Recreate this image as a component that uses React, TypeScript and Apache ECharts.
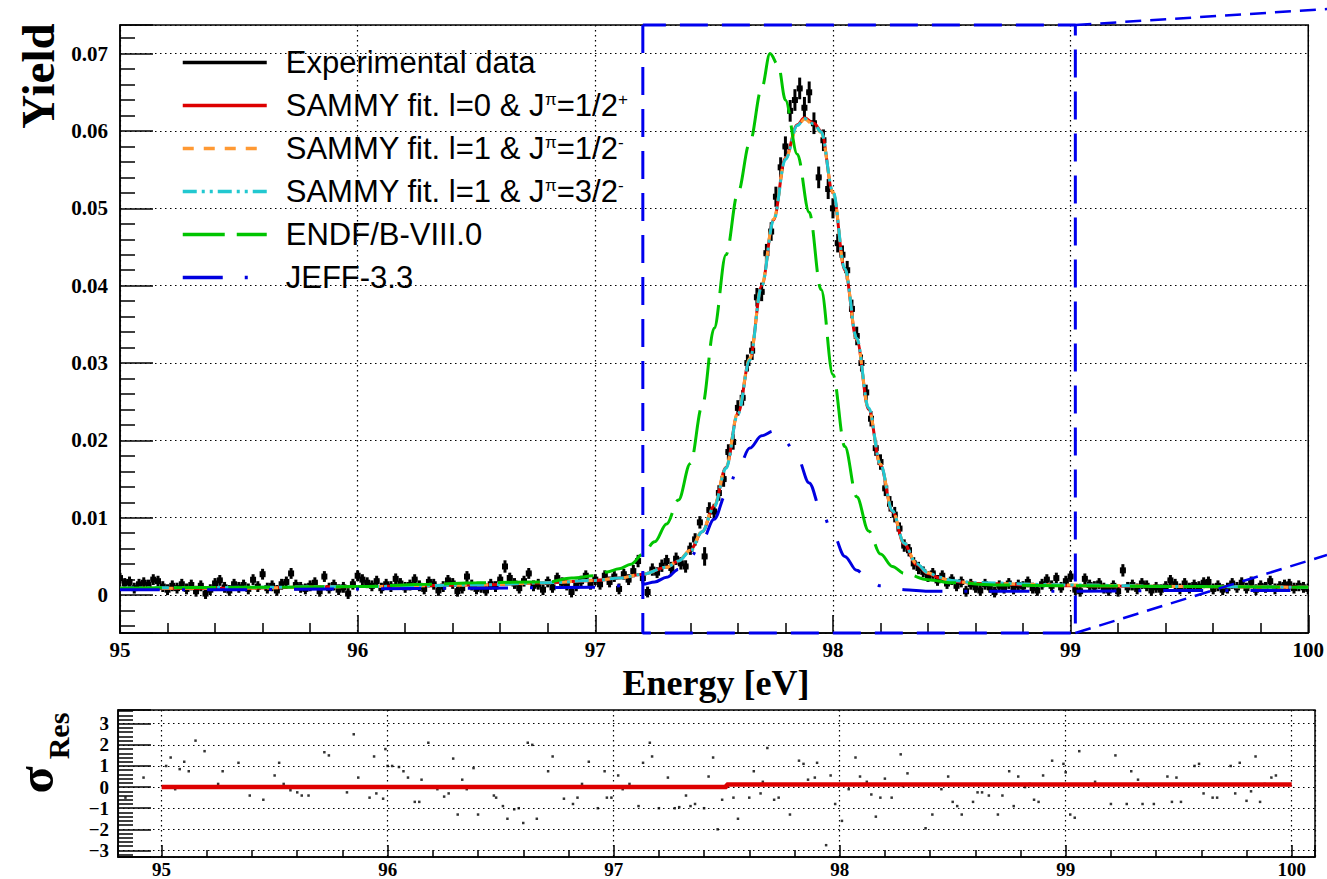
import React, { useEffect, useRef } from 'react';
import * as echarts from 'echarts';

// ---------------- data ----------------
const energyStart = 95.0;
const energyStep = 0.02;

const measuredYield = [
  0.0022, 0.0015, 0.0017, 0.0009, 0.0014, 0.0016, 0.0013, 0.0020, 0.0018, 0.0011,
  0.0007, 0.0012, 0.0009, 0.0014, 0.0008, 0.0013, 0.0005, 0.0012, 0.0002, 0.0007,
  0.0015, 0.0019, 0.0010, 0.0006, 0.0014, 0.0010, 0.0013, 0.0008, 0.0020, 0.0011,
  0.0027, 0.0009, 0.0012, 0.0006, 0.0014, 0.0017, 0.0028, 0.0013, 0.0010, 0.0008,
  0.0012, 0.0016, 0.0005, 0.0024, 0.0009, 0.0013, 0.0007, 0.0010, 0.0002, 0.0014,
  0.0025, 0.0020, 0.0016, 0.0012, 0.0018, 0.0009, 0.0014, 0.0011, 0.0021, 0.0015,
  0.0010, 0.0013, 0.0020, 0.0012, 0.0008, 0.0017, 0.0014, 0.0006, 0.0011, 0.0019,
  0.0015, 0.0005, 0.0009, 0.0024, 0.0013, 0.0008, 0.0010, 0.0006, 0.0014, 0.0011,
  0.0020, 0.0037, 0.0022, 0.0015, 0.0009, 0.0018, 0.0028, 0.0012, 0.0014, 0.0007,
  0.0017, 0.0010, 0.0022, 0.0016, 0.0013, 0.0004, 0.0012, 0.0018, 0.0025, 0.0014,
  0.0020,
  0.0014, 0.0025, 0.0017, 0.0024, 0.0008, 0.0027, 0.0020, 0.0031, 0.0044, 0.0022,
  0.0004, 0.0033, 0.0029, 0.0038, 0.0044, 0.0035, 0.0047, 0.0041, 0.0037, 0.0060,
  0.0072, 0.0094, 0.0050, 0.0110, 0.0108, 0.0132, 0.0150, 0.0185, 0.0198, 0.0242,
  0.0255, 0.0300, 0.0316, 0.0385, 0.0392, 0.0442, 0.0470, 0.0515, 0.0553, 0.0580,
  0.0626, 0.0640, 0.0655, 0.0630, 0.0650, 0.0610, 0.0540, 0.0588, 0.0525, 0.0500,
  0.0455, 0.0440, 0.0420, 0.0370, 0.0335, 0.0300, 0.0262, 0.0228, 0.0190, 0.0172,
  0.0138, 0.0118, 0.0104, 0.0086, 0.0064, 0.0058, 0.0041, 0.0035, 0.0030, 0.0024,
  0.0028, 0.0019, 0.0025, 0.0015, 0.0020, 0.0012, 0.0017, 0.0005, 0.0014, 0.0010,
  0.0006, 0.0014, 0.0010, 0.0004, 0.0012, 0.0009, 0.0015, 0.0008, 0.0013, 0.0011,
  0.0017, 0.0009, 0.0006, 0.0014, 0.0020, 0.0012, 0.0022, 0.0010, 0.0018, 0.0024,
  0.0007, 0.0005, 0.0021, 0.0013, 0.0011, 0.0015, 0.0009, 0.0006, 0.0012, 0.0005,
  0.0032, 0.0010, 0.0013, 0.0008, 0.0015, 0.0012, 0.0006, 0.0010, 0.0007, 0.0011,
  0.0019, 0.0014, 0.0008, 0.0015, 0.0009, 0.0013, 0.0011, 0.0016, 0.0017, 0.0008,
  0.0012, 0.0007, 0.0009, 0.0015, 0.0010, 0.0016, 0.0009, 0.0017, 0.0007, 0.0012,
  0.0010, 0.0018, 0.0008, 0.0011, 0.0013, 0.0014, 0.0009, 0.0012, 0.0010, 0.0008,
];

const measuredError = [
  0.0007, 0.0007, 0.0007, 0.0007, 0.0007, 0.0007, 0.0007, 0.0007, 0.0007, 0.0007,
  0.0007, 0.0007, 0.0007, 0.0007, 0.0007, 0.0007, 0.0007, 0.0007, 0.0007, 0.0007,
  0.0007, 0.0007, 0.0007, 0.0007, 0.0007, 0.0007, 0.0007, 0.0007, 0.0007, 0.0007,
  0.0007, 0.0007, 0.0007, 0.0007, 0.0007, 0.0007, 0.0007, 0.0007, 0.0007, 0.0007,
  0.0007, 0.0007, 0.0007, 0.0007, 0.0007, 0.0007, 0.0007, 0.0007, 0.0007, 0.0007,
  0.0007, 0.0007, 0.0007, 0.0007, 0.0007, 0.0007, 0.0007, 0.0007, 0.0007, 0.0007,
  0.0007, 0.0007, 0.0007, 0.0007, 0.0007, 0.0007, 0.0007, 0.0007, 0.0007, 0.0007,
  0.0007, 0.0007, 0.0007, 0.0007, 0.0007, 0.0007, 0.0007, 0.0007, 0.0007, 0.0007,
  0.0007, 0.0008, 0.0007, 0.0007, 0.0007, 0.0007, 0.0007, 0.0007, 0.0007, 0.0007,
  0.0007, 0.0007, 0.0007, 0.0007, 0.0007, 0.0007, 0.0007, 0.0007, 0.0007, 0.0007,
  0.0007,
  0.0007, 0.0007, 0.0007, 0.0007, 0.0007, 0.0007, 0.0007, 0.0008, 0.0008, 0.0007,
  0.0007, 0.0008, 0.0007, 0.0008, 0.0008, 0.0008, 0.0008, 0.0008, 0.0008, 0.0008,
  0.0008, 0.0008, 0.0012, 0.0010, 0.0010, 0.0010, 0.0010, 0.0010, 0.0010, 0.0010,
  0.0010, 0.0011, 0.0012, 0.0012, 0.0012, 0.0012, 0.0012, 0.0013, 0.0013, 0.0013,
  0.0014, 0.0014, 0.0014, 0.0014, 0.0014, 0.0014, 0.0014, 0.0014, 0.0013, 0.0013,
  0.0012, 0.0012, 0.0012, 0.0012, 0.0012, 0.0011, 0.0010, 0.0010, 0.0010, 0.0010,
  0.0010, 0.0010, 0.0010, 0.0008, 0.0008, 0.0008, 0.0008, 0.0008, 0.0007, 0.0007,
  0.0007, 0.0007, 0.0007, 0.0007, 0.0007, 0.0007, 0.0007, 0.0007, 0.0007, 0.0007,
  0.0007, 0.0007, 0.0007, 0.0007, 0.0007, 0.0007, 0.0007, 0.0007, 0.0007, 0.0007,
  0.0007, 0.0007, 0.0007, 0.0007, 0.0007, 0.0007, 0.0007, 0.0007, 0.0007, 0.0007,
  0.0007, 0.0007, 0.0007, 0.0007, 0.0007, 0.0007, 0.0007, 0.0007, 0.0007, 0.0007,
  0.0008, 0.0007, 0.0007, 0.0007, 0.0007, 0.0007, 0.0007, 0.0007, 0.0007, 0.0007,
  0.0007, 0.0007, 0.0007, 0.0007, 0.0007, 0.0007, 0.0007, 0.0007, 0.0007, 0.0007,
  0.0007, 0.0007, 0.0007, 0.0007, 0.0007, 0.0007, 0.0007, 0.0007, 0.0007, 0.0007,
  0.0007, 0.0007, 0.0007, 0.0007, 0.0007, 0.0007, 0.0007, 0.0007, 0.0007, 0.0007,
];

const fitEnergy = [
  95.0, 95.5, 96.0, 96.5, 96.8, 97.0, 97.1, 97.2, 97.3, 97.35, 97.4, 97.45, 97.5, 97.55,
  97.6, 97.65, 97.7, 97.75, 97.8, 97.85, 97.88, 97.92, 97.95, 98.0, 98.05, 98.1, 98.15,
  98.2, 98.25, 98.3, 98.35, 98.4, 98.45, 98.5, 98.6, 99.0, 99.5, 100.0,
];
const sammyL0Yield = [
  0.0008, 0.0009, 0.0011, 0.0013, 0.0016, 0.0019, 0.0022, 0.0027, 0.0036, 0.0044, 0.0058, 0.0082, 0.0115, 0.0165,
  0.0235, 0.0305, 0.0400, 0.0485, 0.0565, 0.0608, 0.0617, 0.0610, 0.0600, 0.0520, 0.0420, 0.0330, 0.0240,
  0.0168, 0.0108, 0.0066, 0.0040, 0.0028, 0.0022, 0.0018, 0.0015, 0.0012, 0.0011, 0.0010,
];
const sammyL1HalfYield = [
  0.0009, 0.0009, 0.0011, 0.0013, 0.0016, 0.0019, 0.0022, 0.0027, 0.0036, 0.0045, 0.0058, 0.0083, 0.0116, 0.0166,
  0.0236, 0.0306, 0.0401, 0.0486, 0.0564, 0.0606, 0.0615, 0.0608, 0.0598, 0.0521, 0.0421, 0.0331, 0.0241,
  0.0169, 0.0109, 0.0067, 0.0041, 0.0029, 0.0022, 0.0018, 0.0015, 0.0013, 0.0011, 0.0010,
];
const sammyL1ThreeHalfYield = [
  0.0009, 0.0010, 0.0011, 0.0013, 0.0016, 0.0019, 0.0022, 0.0027, 0.0036, 0.0044, 0.0057, 0.0082, 0.0114, 0.0164,
  0.0234, 0.0304, 0.0399, 0.0484, 0.0563, 0.0607, 0.0616, 0.0609, 0.0599, 0.0522, 0.0422, 0.0332, 0.0242,
  0.0169, 0.0109, 0.0067, 0.0041, 0.0029, 0.0023, 0.0019, 0.0016, 0.0013, 0.0011, 0.0010,
];

const endfEnergy = [
  95.0, 95.5, 96.0, 96.3, 96.5, 96.8, 96.9, 97.0, 97.05, 97.1, 97.15, 97.2, 97.25, 97.3, 97.35,
  97.4, 97.45, 97.5, 97.55, 97.6, 97.65, 97.7, 97.735, 97.77, 97.8, 97.85, 97.9, 97.95, 98.0,
  98.05, 98.1, 98.15, 98.2, 98.25, 98.3, 98.4, 98.5, 98.7, 99.0, 99.5, 100.0,
];
const endfYield = [
  0.0009, 0.0010, 0.0011, 0.0014, 0.0016, 0.0017, 0.0022, 0.0025, 0.0030, 0.0034, 0.0040, 0.0053, 0.0069, 0.0092, 0.0123,
  0.0170, 0.0245, 0.0345, 0.0440, 0.0520, 0.0585, 0.0655, 0.0700, 0.0685, 0.0640, 0.0570, 0.0495, 0.0395, 0.0285,
  0.0192, 0.0127, 0.0083, 0.0053, 0.0037, 0.0028, 0.0020, 0.0016, 0.0013, 0.0012, 0.0011, 0.0010,
];

const jeffEnergy = [
  95.0, 95.5, 96.0, 96.5, 97.0, 97.2, 97.25, 97.3, 97.35, 97.4, 97.45, 97.5, 97.55, 97.6, 97.65,
  97.7, 97.75, 97.8, 97.85, 97.9, 97.95, 98.0, 98.05, 98.1, 98.15, 98.2, 98.25, 98.3, 98.4,
  98.7, 99.0, 99.5, 100.0,
];
const jeffYield = [
  0.0007, 0.0007, 0.0008, 0.0009, 0.0010, 0.0014, 0.0017, 0.0023, 0.0033, 0.0049, 0.0071, 0.0098, 0.0130, 0.0163, 0.0190,
  0.0206, 0.0212, 0.0198, 0.0178, 0.0145, 0.0110, 0.0079, 0.0050, 0.0032, 0.0020, 0.0012, 0.0009, 0.0007, 0.0005,
  0.0005, 0.0005, 0.0006, 0.0006,
];

const residualEnergy = [
  94.84, 94.92, 95.02, 95.04, 95.06, 95.08, 95.10, 95.12, 95.15, 95.19, 95.25, 95.27, 95.34, 95.39, 95.45,
  95.50, 95.52, 95.54, 95.57, 95.60, 95.62, 95.65, 95.72, 95.74, 95.82, 95.85, 95.87, 95.92, 95.94, 95.95,
  95.98, 95.99, 96.00, 96.02, 96.05, 96.07, 96.09, 96.12, 96.14, 96.15, 96.18, 96.22, 96.25, 96.27, 96.29,
  96.31, 96.33, 96.35, 96.38, 96.40, 96.47, 96.48, 96.51, 96.53, 96.56, 96.58, 96.60, 96.62, 96.64, 96.66,
  96.71, 96.73, 96.78, 96.82, 96.84, 96.86, 96.89, 96.93, 96.96, 96.97, 96.99, 97.02, 97.04, 97.07, 97.11,
  97.13, 97.16, 97.17, 97.20, 97.24, 97.27, 97.29, 97.32, 97.34, 97.36, 97.40, 97.42, 97.44, 97.46, 97.48,
  97.53, 97.55, 97.60, 97.62, 97.65, 97.66, 97.68, 97.71, 97.73, 97.78, 97.82, 97.84, 97.86, 97.89, 97.90,
  97.94, 97.96, 97.98, 98.01, 98.04, 98.07, 98.09, 98.12, 98.14, 98.16, 98.18, 98.20, 98.23, 98.27, 98.30,
  98.34, 98.38, 98.41, 98.45, 98.48, 98.50, 98.52, 98.54, 98.59, 98.61, 98.63, 98.66, 98.70, 98.72, 98.75,
  98.77, 98.79, 98.82, 98.86, 98.88, 98.90, 98.94, 98.99, 99.00, 99.02, 99.04, 99.06, 99.13, 99.20, 99.22,
  99.27, 99.29, 99.32, 99.34, 99.39, 99.45, 99.47, 99.49, 99.51, 99.57, 99.59, 99.61, 99.65, 99.67, 99.73,
  99.75, 99.77, 99.80, 99.82, 99.84, 99.86, 99.91, 99.93, 98.02, 98.28, 98.56, 98.84, 99.10, 99.36, 99.62,
  99.88, 99.98,
];
const residualSigma = [
  -0.5, 0.45, 1.0, 1.4, -0.1, 0.85, 1.2, 0.75, 2.2, 1.7, 0.15, 0.75, 1.15, -0.4, -0.6,
  0.55, 1.15, 0.15, -0.15, -0.25, -0.4, -0.4, 1.65, 1.5, -0.25, 2.5, 0.45, -0.5, 1.45, -0.3,
  -0.55, 1.8, 1.0, 1.0, 0.95, 0.75, 0.45, -0.7, -0.7, 0.35, 2.1, -0.1, -0.45, -0.3, 1.35,
  -1.3, 0.35, -0.1, 0.9, -1.3, -0.4, -0.5, -0.9, -1.5, -1.05, -1.0, -1.7, 2.1, 2.0, -1.5,
  0.75, 1.45, -0.55, -0.8, -0.5, 0.15, 1.2, -1.0, 0.75, -0.5, -0.5, 0.55, -0.1, 0.15, -0.9,
  1.15, 2.1, 1.45, -1.0, 0.45, -1.0, -0.95, -0.4, -0.9, -0.8, -1.0, 0.5, 1.4, -2.0, -0.6,
  -0.5, -1.5, -0.5, 0.75, -0.3, 0.25, 1.85, -0.6, -0.5, -1.3, 1.25, 1.1, 0.35, 0.45, 1.15,
  -2.75, 0.55, -0.8, -1.6, -0.1, 1.4, 0.5, 0.25, -0.35, -1.4, -0.5, 0.4, -0.5, 1.55, 0.65,
  0.1, -1.95, -1.3, -0.1, 0.5, -0.7, -0.9, -1.3, -0.7, -0.25, -0.25, -0.4, -1.3, -0.4, 0.75,
  -0.9, 0.5, 0.0, -0.6, -0.7, 0.55, 1.25, 1.1, 0.7, -1.3, -1.45, 1.7, 0.25, -0.8, 1.5,
  -0.8, 0.75, 0.35, -0.8, -0.8, 0.5, -0.7, 0.45, -0.7, 1.0, 1.1, -0.3, -0.5, -0.5, 1.0,
  -0.3, 1.15, -0.65, -0.2, 1.45, -0.7, 0.45, 0.55, 0.1, 0.05, 0.1, 0.15, 0.1, 0.05, 0.1,
  0.15, 0.1,
];

const residualFitEnergy = [95.0, 97.5, 97.5, 100.0];
const residualFitSigma = [0.0, 0.0, 0.12, 0.12];

const zoomBoxEnergy = [97.2, 99.02];

const seriesNames = [
  'Experimental data',
  'SAMMY fit. l=0 & Jπ=1/2+',
  'SAMMY fit. l=1 & Jπ=1/2-',
  'SAMMY fit. l=1 & Jπ=3/2-',
  'ENDF/B-VIII.0',
  'JEFF-3.3',
];
const legendRich: Record<string, string> = {
  'Experimental data': 'Experimental data',
  'SAMMY fit. l=0 & Jπ=1/2+': 'SAMMY fit. l=0 & J{sup|π}=1/2{sup|+}',
  'SAMMY fit. l=1 & Jπ=1/2-': 'SAMMY fit. l=1 & J{sup|π}=1/2{sup|-}',
  'SAMMY fit. l=1 & Jπ=3/2-': 'SAMMY fit. l=1 & J{sup|π}=3/2{sup|-}',
  'ENDF/B-VIII.0': 'ENDF/B-VIII.0',
  'JEFF-3.3': 'JEFF-3.3',
};

// axis ranges
const topXMin = 95;
const topXMax = 100;
const topYMin = -0.0049;
const topYMax = 0.0737;
const botXMin = 94.807;
const botXMax = 100.103;
const botYMin = -3.31;
const botYMax = 3.65;

const SERIF = '"Liberation Serif", "Times New Roman", serif';
const SANS = '"Liberation Sans", Arial, Helvetica, sans-serif';

const pairs = (xs: number[], ys: number[]) => xs.map((x, i) => [x, ys[i]]);

const isMultiple = (v: number, step: number) => Math.abs(v / step - Math.round(v / step)) < 1e-6;

export default function App() {
  const ref = useRef<HTMLDivElement>(null);

  useEffect(() => {
    const el = ref.current;
    if (!el) return;
    const chart = echarts.init(el, undefined, { renderer: 'svg' });

    const expRows = measuredYield.map((y, i) => [
      Math.round((energyStart + i * energyStep) * 100) / 100,
      y,
      measuredError[i],
    ]);

    const renderErrorBar = (_params: any, api: any) => {
      const x = api.value(0);
      const y = api.value(1);
      const e = api.value(2);
      const c = api.coord([x, y]);
      const hi = api.coord([x, y + e]);
      const lo = api.coord([x, y - e]);
      const l = api.coord([x - 0.011, y]);
      const r = api.coord([x + 0.011, y]);
      return {
        type: 'group',
        children: [
          { type: 'line', shape: { x1: c[0], y1: hi[1], x2: c[0], y2: lo[1] }, style: { stroke: '#000', lineWidth: 3 } },
          { type: 'line', shape: { x1: l[0], y1: c[1], x2: r[0], y2: c[1] }, style: { stroke: '#000', lineWidth: 2.6 } },
          { type: 'rect', shape: { x: c[0] - 3, y: c[1] - 3, width: 6, height: 6 }, style: { fill: '#000' } },
        ],
      };
    };

    const tickLabel = { fontFamily: SERIF, fontWeight: 'bold' as const, fontSize: 21, color: '#000' };
    const dotted = { type: [1.5, 3.5] as any, color: '#000', width: 1.2 };

    const curve = (name: string, xs: number[], ys: number[], color: string, type: any, z: number) => ({
      name,
      type: 'line',
      xAxisIndex: 0,
      yAxisIndex: 0,
      data: pairs(xs, ys),
      symbol: 'none',
      smooth: 0.35,
      smoothMonotone: 'x',
      lineStyle: { color, width: 3, type },
      itemStyle: { color },
      z,
    });

    const option: any = {
      animation: false,
      backgroundColor: '#fff',
      grid: [
        { left: 120, right: 16, top: 25, bottom: 246, show: true, borderColor: '#000', borderWidth: 1.5, backgroundColor: 'transparent' },
        { left: 118, right: 12, top: 710, bottom: 19, show: true, borderColor: '#000', borderWidth: 1.5, backgroundColor: 'transparent' },
      ],
      legend: {
        orient: 'vertical',
        left: 176,
        top: 42,
        itemWidth: 84,
        itemHeight: 14,
        itemGap: 12,
        selectedMode: false,
        itemStyle: { color: 'transparent', borderColor: 'transparent', borderWidth: 0 },
        lineStyle: { width: 3.5 },
        data: [
          { name: seriesNames[0], icon: 'path://M0,0H82V3.5H0Z', itemStyle: { color: '#000', borderWidth: 0 } },
          seriesNames[1],
          seriesNames[2],
          seriesNames[3],
          seriesNames[4],
          seriesNames[5],
        ],
        formatter: (name: string) => legendRich[name] || name,
        textStyle: {
          fontFamily: SANS,
          fontSize: 31,
          color: '#000',
          lineHeight: 30,
          padding: [0, 0, 0, 14],
          rich: {
            sup: { fontFamily: SANS, fontSize: 17, color: '#000', lineHeight: 12, verticalAlign: 'top' },
          },
        },
      },
      xAxis: [
        {
          type: 'value',
          gridIndex: 0,
          min: topXMin,
          max: topXMax,
          interval: 1,
          axisLine: { show: true, onZero: false, lineStyle: { color: '#000', width: 1.5 } },
          axisTick: { show: true, inside: true, length: 18, lineStyle: { color: '#000', width: 1.5 } },
          minorTick: { show: true, splitNumber: 5, length: 10, lineStyle: { color: '#000', width: 1.5 } },
          splitLine: { show: true, lineStyle: dotted },
          axisLabel: { ...tickLabel, margin: 6, formatter: (v: number) => (isMultiple(v, 1) ? String(Math.round(v)) : '') },
        },
        {
          type: 'value',
          gridIndex: 1,
          min: botXMin,
          max: botXMax,
          minInterval: 1,
          maxInterval: 1,
          axisLine: { show: true, onZero: false, lineStyle: { color: '#000', width: 1.5 } },
          axisTick: { show: true, inside: true, length: 12, lineStyle: { color: '#000', width: 1.5 } },
          minorTick: { show: true, splitNumber: 5, length: 7, lineStyle: { color: '#000', width: 1.5 } },
          splitLine: { show: true, lineStyle: dotted },
          axisLabel: { ...tickLabel, fontSize: 19, margin: 3, formatter: (v: number) => (isMultiple(v, 1) ? String(Math.round(v)) : '') },
        },
      ],
      yAxis: [
        {
          type: 'value',
          gridIndex: 0,
          min: topYMin,
          max: topYMax,
          minInterval: 0.01,
          maxInterval: 0.01,
          axisLine: { show: true, onZero: false, lineStyle: { color: '#000', width: 1.5 } },
          axisTick: { show: true, inside: true, length: 33, lineStyle: { color: '#000', width: 1.5 } },
          minorTick: { show: true, splitNumber: 5, length: 15, lineStyle: { color: '#000', width: 1.5 } },
          splitLine: { show: true, lineStyle: dotted },
          axisLabel: {
            ...tickLabel,
            margin: 12,
            formatter: (v: number) => {
              if (!isMultiple(v, 0.01)) return '';
              const k = Math.round(v / 0.01);
              return k === 0 ? '0' : (k * 0.01).toFixed(2);
            },
          },
        },
        {
          type: 'value',
          gridIndex: 1,
          min: botYMin,
          max: botYMax,
          minInterval: 1,
          maxInterval: 1,
          axisLine: { show: true, onZero: false, lineStyle: { color: '#000', width: 1.5 } },
          axisTick: { show: true, inside: true, length: 33, lineStyle: { color: '#000', width: 1.5 } },
          minorTick: { show: true, splitNumber: 5, length: 15, lineStyle: { color: '#000', width: 1.5 } },
          splitLine: { show: true, lineStyle: dotted },
          axisLabel: {
            ...tickLabel,
            fontSize: 19,
            margin: 9,
            formatter: (v: number) => {
              if (!isMultiple(v, 1)) return '';
              const k = Math.round(v);
              return k < 0 ? '\u2212' + String(-k) : String(k);
            },
          },
        },
      ],
      series: [
        {
          name: seriesNames[0],
          type: 'custom',
          xAxisIndex: 0,
          yAxisIndex: 0,
          data: expRows,
          encode: { x: 0, y: 1 },
          renderItem: renderErrorBar,
          itemStyle: { color: '#000' },
          clip: true,
          z: 2,
        },
        curve(seriesNames[1], fitEnergy, sammyL0Yield, '#dd0000', 'solid', 3),
        curve(seriesNames[2], fitEnergy, sammyL1HalfYield, '#ff9933', [11, 10], 4),
        curve(seriesNames[3], fitEnergy, sammyL1ThreeHalfYield, '#22c8d0', [14, 5, 3, 5, 3, 5], 5),
        curve(seriesNames[4], endfEnergy, endfYield, '#00c400', [42, 12], 6),
        curve(seriesNames[5], jeffEnergy, jeffYield, '#0000e0', [40, 22, 3, 22], 7),
        {
          name: 'zoom window',
          type: 'line',
          xAxisIndex: 0,
          yAxisIndex: 0,
          data: [
            [zoomBoxEnergy[0], topYMax],
            [zoomBoxEnergy[0], topYMin],
            [zoomBoxEnergy[1], topYMin],
            [zoomBoxEnergy[1], topYMax],
            [zoomBoxEnergy[0], topYMax],
          ],
          symbol: 'none',
          clip: false,
          silent: true,
          lineStyle: { color: '#0000ee', width: 3, type: [28, 14] },
          z: 10,
        },
        {
          name: 'residuals',
          type: 'scatter',
          xAxisIndex: 1,
          yAxisIndex: 1,
          data: pairs(residualEnergy, residualSigma),
          symbol: 'rect',
          symbolSize: 2.5,
          itemStyle: { color: '#000' },
          silent: true,
          z: 2,
        },
        {
          name: 'residual fit',
          type: 'line',
          xAxisIndex: 1,
          yAxisIndex: 1,
          data: pairs(residualFitEnergy, residualFitSigma),
          symbol: 'none',
          lineStyle: { color: '#dd0000', width: 4.5 },
          silent: true,
          z: 3,
        },
      ],
    };

    chart.setOption(option);

    const pTop = chart.convertToPixel({ gridIndex: 0 } as any, [zoomBoxEnergy[1], topYMax]) as number[];
    const pBot = chart.convertToPixel({ gridIndex: 0 } as any, [zoomBoxEnergy[1], topYMin]) as number[];
    const W = el.clientWidth;

    const centered = { align: 'center', verticalAlign: 'middle', textAlign: 'center', textVerticalAlign: 'middle', fill: '#000' };

    chart.setOption({
      graphic: {
        elements: [
          {
            type: 'line',
            shape: { x1: pTop[0], y1: pTop[1], x2: W, y2: 9 },
            style: { stroke: '#0000ee', lineWidth: 2.5, lineDash: [16, 9] },
            z: 20,
          },
          {
            type: 'line',
            shape: { x1: pBot[0], y1: pBot[1], x2: W, y2: 555 },
            style: { stroke: '#0000ee', lineWidth: 2.5, lineDash: [16, 9] },
            z: 20,
          },
          {
            type: 'text',
            x: 38,
            y: 76,
            rotation: Math.PI / 2,
            style: { ...centered, text: 'Yield', font: 'bold 47px ' + SERIF },
          },
          {
            type: 'text',
            x: 716,
            y: 683,
            style: { ...centered, text: 'Energy [eV]', font: 'bold 36px ' + SERIF },
          },
          {
            type: 'text',
            x: 36,
            y: 780,
            rotation: Math.PI / 2,
            style: { ...centered, text: 'σ', font: 'bold 50px ' + SERIF },
          },
          {
            type: 'text',
            x: 58,
            y: 736,
            rotation: Math.PI / 2,
            style: { ...centered, text: 'Res', font: 'bold 30px ' + SERIF },
          },
        ],
      },
    });

    return () => {
      chart.dispose();
    };
  }, []);

  return (
    <div
      ref={ref}
      style={{ position: 'fixed', left: 0, top: 0, width: 1327, height: 879, background: '#fff' }}
    />
  );
}
